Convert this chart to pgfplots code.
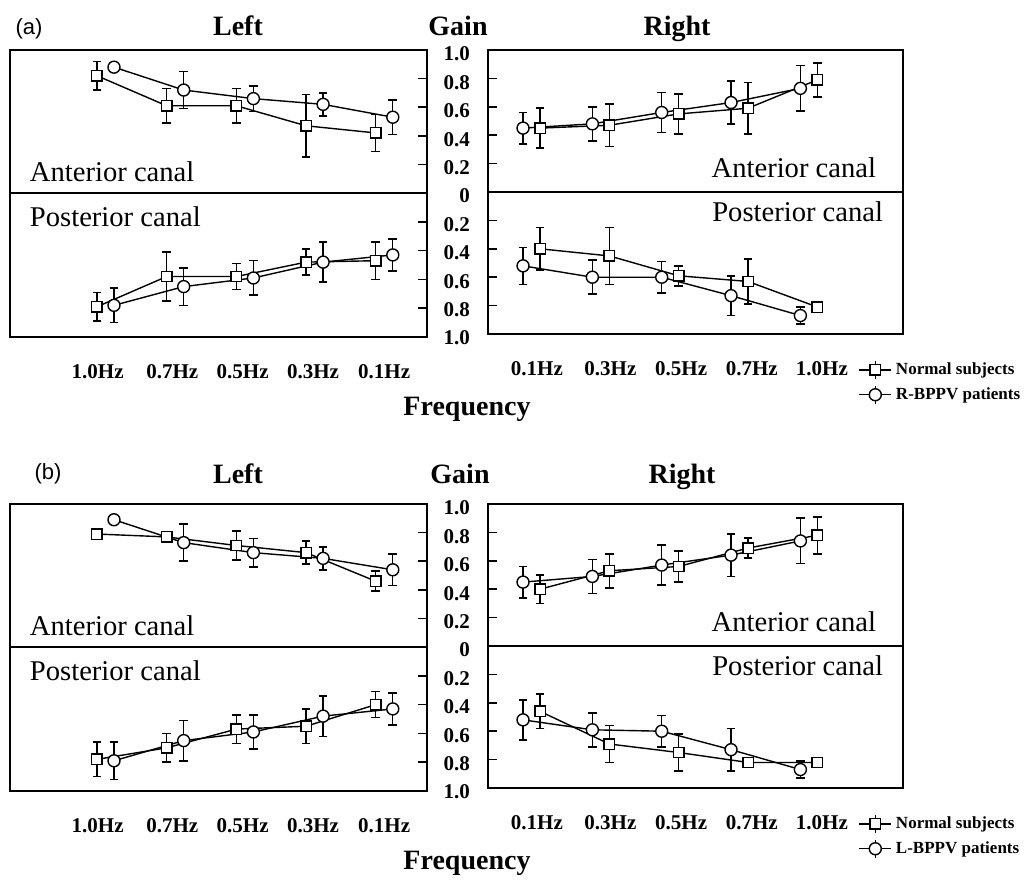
\documentclass[border=0pt]{standalone}
\usepackage{fontspec}
\setmainfont{Liberation Serif}
\newfontfamily\sansf{Liberation Sans}
\usepackage{pgfplots}
\pgfplotsset{compat=1.18}
\newcommand{\tickf}{\bfseries\fontsize{10.5}{12}\selectfont}
\newcommand{\canf}{\fontsize{14.3}{16}\selectfont}
\newcommand{\titf}{\bfseries\fontsize{14}{16}\selectfont}
\newcommand{\legf}{\bfseries\fontsize{8.5}{9}\selectfont}
\pgfplotsset{
  base/.style={scale only axis, ymin=0, ymax=1,
    axis line style={line width=0.9pt},
    ytick style={line width=0.8pt, black}, major tick length=4.5pt, tick align=inside,
    xtick style={draw=none},
    yticklabel style={font=\tickf, xshift=-5.5pt, yshift=-2pt},
    xticklabel style={font=\tickf, yshift=-10pt},
  },
  eb/.style={/pgfplots/error bars/y dir=both, /pgfplots/error bars/y explicit,
    /pgfplots/error bars/error bar style={line width=0.7pt},
    /pgfplots/error bars/error mark=-,
    /pgfplots/error bars/error mark options={rotate=90, mark size=2.2pt, line width=0.8pt}},
  sq/.style={black, line width=0.7pt, mark=square*, mark size=2.6pt, mark options={solid, fill=white, line width=0.7pt}, eb},
  ci/.style={black, line width=0.7pt, mark=*, mark size=3pt, mark options={solid, fill=white, line width=0.7pt}, eb},
  Lax/.style={base, width=208.5pt, xmin=-1.248, xmax=4.735, ytick pos=right, ytick={0.2,0.4,0.6,0.8}, yticklabels={{},{},{},{}}},
  Rax/.style={base, width=207.5pt, xmin=-0.505, xmax=5.48, ytick pos=left},
  antL/.style={Lax, xtick=\empty, height=71.5pt},
  postL/.style={Lax, y dir=reverse, height=72pt, xtick={0.01,1.08,2.09,3.10,4.12}, xticklabels={1.0Hz,0.7Hz,0.5Hz,0.3Hz,0.1Hz}},
  antR/.style={Rax, xtick=\empty, height=71pt, ytick={0.2,0.4,0.6,0.8,1}, yticklabels={0.2,0.4,0.6,0.8,1.0}},
  postR/.style={Rax, y dir=reverse, height=71pt, ytick={0,0.2,0.4,0.6,0.8,1}, yticklabels={0,0.2,0.4,0.6,0.8,1.0},
    xtick={0.20,1.26,2.28,3.30,4.31}, xticklabels={0.1Hz,0.3Hz,0.5Hz,0.7Hz,1.0Hz},
    legend style={at={(0.892,-0.17)}, anchor=north west, draw=none, fill=none, font=\legf, inner sep=0pt, row sep=1pt, cells={anchor=west}},
    legend image code/.code={
      \draw[black, line width=0.6pt] (8pt,-4.5pt) -- (8pt,4.5pt);
      \draw[mark repeat=2, mark phase=2, #1] plot coordinates {(0pt,0pt) (8pt,0pt) (16pt,0pt)};
    }},
}
\begin{document}
\begin{tikzpicture}
\path[use as bounding box] (0pt,0pt) rectangle (513pt,-439.5pt);
% ================= (a) =================
\node[font=\sansf\fontsize{11}{13}\selectfont] at (14.5pt,-14.5pt) {(a)};
\node[font=\titf, anchor=base] at (119pt,-17.5pt) {Left};
\node[font=\titf, anchor=base] at (229pt,-17.5pt) {Gain};
\node[font=\titf, anchor=base] at (338.5pt,-17.5pt) {Right};
\node[font=\titf, anchor=base] at (233.5pt,-207.5pt) {Frequency};

\begin{axis}[antL, at={(5pt,-25pt)}, anchor=north west]
\addplot[sq] table[x index=0, y index=1, y error index=2, row sep=\\]{0 0.82 0.10\\ 1 0.61 0.12\\ 2 0.61 0.12\\ 3 0.47 0.22\\ 4 0.42 0.13\\};
\addplot[ci] table[x index=0, y index=1, y error index=2, row sep=\\]{0.244 0.88 0.02\\ 1.244 0.72 0.13\\ 2.244 0.66 0.09\\ 3.244 0.62 0.08\\ 4.244 0.53 0.12\\};
\node[font=\canf, anchor=base west] at (axis description cs:0.031,0.08) {Anterior canal};
\end{axis}

\begin{axis}[postL, at={(5pt,-96.5pt)}, anchor=north west]
\addplot[sq] table[x index=0, y index=1, y error index=2, row sep=\\]{0 0.79 0.10\\ 1 0.58 0.17\\ 2 0.58 0.09\\ 3 0.48 0.09\\ 4 0.47 0.13\\};
\addplot[ci] table[x index=0, y index=1, y error index=2, row sep=\\]{0.244 0.78 0.12\\ 1.244 0.65 0.13\\ 2.244 0.59 0.12\\ 3.244 0.48 0.14\\ 4.244 0.43 0.11\\};
\node[font=\canf, anchor=base west] at (axis description cs:0.031,0.77) {Posterior canal};
\end{axis}

\begin{axis}[antR, at={(244pt,-25pt)}, anchor=north west]
\addplot[sq] table[x index=0, y index=1, y error index=2, row sep=\\]{0.245 0.45 0.14\\ 1.245 0.47 0.15\\ 2.245 0.55 0.14\\ 3.245 0.59 0.18\\ 4.245 0.79 0.12\\};
\addplot[ci] table[x index=0, y index=1, y error index=2, row sep=\\]{0 0.45 0.11\\ 1 0.48 0.12\\ 2 0.56 0.14\\ 3 0.63 0.15\\ 4 0.73 0.16\\};
\node[font=\canf, anchor=base east] at (axis description cs:0.952,0.10) {Anterior canal};
\end{axis}

\begin{axis}[postR, at={(244pt,-96pt)}, anchor=north west]
\addplot[sq] table[x index=0, y index=1, y error index=2, row sep=\\]{0.245 0.40 0.15\\ 1.245 0.45 0.20\\ 2.245 0.59 0.07\\ 3.245 0.63 0.16\\ 4.245 0.81 0.03\\};
\addlegendentry{Normal subjects}
\addplot[ci] table[x index=0, y index=1, y error index=2, row sep=\\]{0 0.52 0.13\\ 1 0.60 0.12\\ 2 0.60 0.11\\ 3 0.73 0.14\\ 4 0.87 0.06\\};
\addlegendentry{R-BPPV patients}
\node[font=\canf, anchor=base east] at (axis description cs:0.969,0.79) {Posterior canal};
\end{axis}

% ================= (b) =================
\node[font=\sansf\fontsize{11}{13}\selectfont] at (24pt,-237pt) {(b)};
\node[font=\titf, anchor=base] at (119pt,-241.5pt) {Left};
\node[font=\titf, anchor=base] at (230pt,-241.5pt) {Gain};
\node[font=\titf, anchor=base] at (341pt,-241.5pt) {Right};
\node[font=\titf, anchor=base] at (233.5pt,-434.5pt) {Frequency};

\begin{axis}[antL, at={(5pt,-252pt)}, anchor=north west]
\addplot[sq] table[x index=0, y index=1, y error index=2, row sep=\\]{0 0.79 0.0\\ 1 0.77 0.02\\ 2 0.71 0.10\\ 3 0.66 0.08\\ 4 0.46 0.07\\};
\addplot[ci] table[x index=0, y index=1, y error index=2, row sep=\\]{0.244 0.89 0.02\\ 1.244 0.73 0.13\\ 2.244 0.66 0.10\\ 3.244 0.62 0.08\\ 4.244 0.54 0.11\\};
\node[font=\canf, anchor=base west] at (axis description cs:0.031,0.08) {Anterior canal};
\end{axis}

\begin{axis}[postL, at={(5pt,-323.5pt)}, anchor=north west]
\addplot[sq] table[x index=0, y index=1, y error index=2, row sep=\\]{0 0.78 0.12\\ 1 0.70 0.10\\ 2 0.57 0.10\\ 3 0.55 0.12\\ 4 0.40 0.09\\};
\addplot[ci] table[x index=0, y index=1, y error index=2, row sep=\\]{0.244 0.79 0.13\\ 1.244 0.65 0.14\\ 2.244 0.59 0.12\\ 3.244 0.48 0.14\\ 4.244 0.43 0.11\\};
\node[font=\canf, anchor=base west] at (axis description cs:0.031,0.77) {Posterior canal};
\end{axis}

\begin{axis}[antR, at={(244pt,-252pt)}, anchor=north west]
\addplot[sq] table[x index=0, y index=1, y error index=2, row sep=\\]{0.245 0.40 0.10\\ 1.245 0.53 0.12\\ 2.245 0.56 0.11\\ 3.245 0.69 0.07\\ 4.245 0.78 0.13\\};
\addplot[ci] table[x index=0, y index=1, y error index=2, row sep=\\]{0 0.45 0.11\\ 1 0.49 0.12\\ 2 0.57 0.14\\ 3 0.64 0.15\\ 4 0.74 0.16\\};
\node[font=\canf, anchor=base east] at (axis description cs:0.952,0.10) {Anterior canal};
\end{axis}

\begin{axis}[postR, at={(244pt,-323pt)}, anchor=north west]
\addplot[sq] table[x index=0, y index=1, y error index=2, row sep=\\]{0.245 0.46 0.12\\ 1.245 0.69 0.13\\ 2.245 0.75 0.13\\ 3.245 0.82 0.02\\ 4.245 0.82 0.03\\};
\addlegendentry{Normal subjects}
\addplot[ci] table[x index=0, y index=1, y error index=2, row sep=\\]{0 0.52 0.14\\ 1 0.59 0.12\\ 2 0.60 0.11\\ 3 0.73 0.15\\ 4 0.87 0.06\\};
\addlegendentry{L-BPPV patients}
\node[font=\canf, anchor=base east] at (axis description cs:0.969,0.79) {Posterior canal};
\end{axis}
\end{tikzpicture}
\end{document}
